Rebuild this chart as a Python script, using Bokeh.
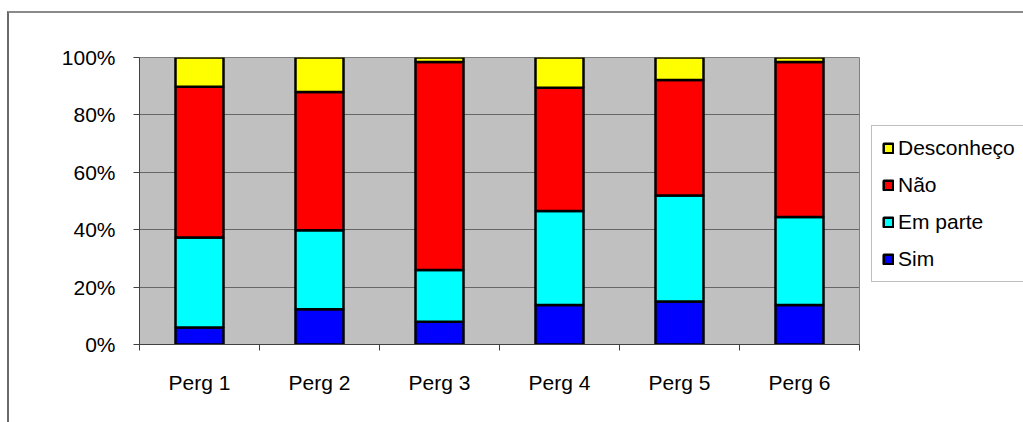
from bokeh.plotting import figure
from bokeh.models import ColumnDataSource, FixedTicker, PrintfTickFormatter, Legend, LegendItem, Range1d
from bokeh.embed import file_html
from bokeh.resources import INLINE

# Survey answers per question, in percent of respondents
categories = ["Perg 1", "Perg 2", "Perg 3", "Perg 4", "Perg 5", "Perg 6"]
sim = [5.9, 12.3, 7.9, 13.8, 15.0, 13.8]
em_parte = [31.4, 27.5, 18.1, 32.7, 36.9, 30.6]
nao = [52.5, 48.2, 72.4, 43.0, 40.3, 54.0]
desconheco = [10.2, 12.0, 1.6, 10.5, 7.8, 1.6]

series = ["Sim", "Em parte", "Não", "Desconheço"]
colors = ["#0000FF", "#00FFFF", "#FF0000", "#FFFF00"]
y_ticks = [0, 20, 40, 60, 80, 100]

FONT = "Liberation Sans"
FONT_SIZE = "21px"

centers = [i + 0.5 for i in range(len(categories))]
source = ColumnDataSource(dict(x=centers, **{
    "Sim": sim, "Em parte": em_parte, "Não": nao, "Desconheço": desconheco,
}))

p = figure(
    frame_width=720, frame_height=287,
    min_border_left=130, min_border_right=10,
    min_border_top=44, min_border_bottom=78,
    x_range=Range1d(0, len(categories)), y_range=Range1d(0, 100),
    output_backend="svg", toolbar_location=None,
)
p.styles = {
    "margin-left": "7px", "margin-top": "11px",
    "border-left": "2px solid #6a6a6a", "border-top": "2px solid #8a8a8a",
}

p.background_fill_color = "#C0C0C0"
p.border_fill_color = "white"
p.outline_line_color = "#808080"
p.outline_line_width = 1

renderers = p.vbar_stack(
    series, x="x", width=0.4, source=source,
    fill_color=colors, line_color="black", line_width=2.5,
)

# Axes
p.xaxis.ticker = FixedTicker(ticks=centers, minor_ticks=list(range(len(categories) + 1)))
p.xaxis.major_label_overrides = {c: lab for c, lab in zip(centers, categories)}
p.xaxis.major_tick_in = 0
p.xaxis.major_tick_out = 0
p.xaxis.minor_tick_in = 0
p.xaxis.minor_tick_out = 6
p.xaxis.minor_tick_line_color = "#404040"
p.xaxis.major_label_standoff = 20

p.yaxis.ticker = FixedTicker(ticks=y_ticks)
p.yaxis.formatter = PrintfTickFormatter(format="%d%%")
p.yaxis.major_tick_in = 0
p.yaxis.major_tick_out = 6
p.yaxis.minor_tick_line_color = None
p.yaxis.major_label_standoff = 18

for ax in (p.xaxis, p.yaxis):
    ax.axis_line_color = "#404040"
    ax.major_tick_line_color = "#404040"
    ax.major_label_text_font = FONT
    ax.major_label_text_font_size = FONT_SIZE
    ax.major_label_text_color = "black"

p.xgrid.grid_line_color = None
p.ygrid.ticker = FixedTicker(ticks=y_ticks)
p.ygrid.grid_line_color = "#666666"
p.ygrid.grid_line_width = 1

# Legend beside the plot area, top series first
items = [LegendItem(label=name, renderers=[r]) for name, r in zip(series, renderers)][::-1]
legend = Legend(
    items=items, location=(12, 62), margin=0,
    label_text_font=FONT, label_text_font_size=FONT_SIZE, label_text_color="black",
    label_height=20, glyph_height=12, glyph_width=12,
    label_standoff=4, spacing=13, padding=10,
    border_line_color="#808080", border_line_width=1,
    background_fill_color="white", background_fill_alpha=1,
)
p.add_layout(legend, "right")

open("out.html", "w").write(file_html(p, INLINE))
